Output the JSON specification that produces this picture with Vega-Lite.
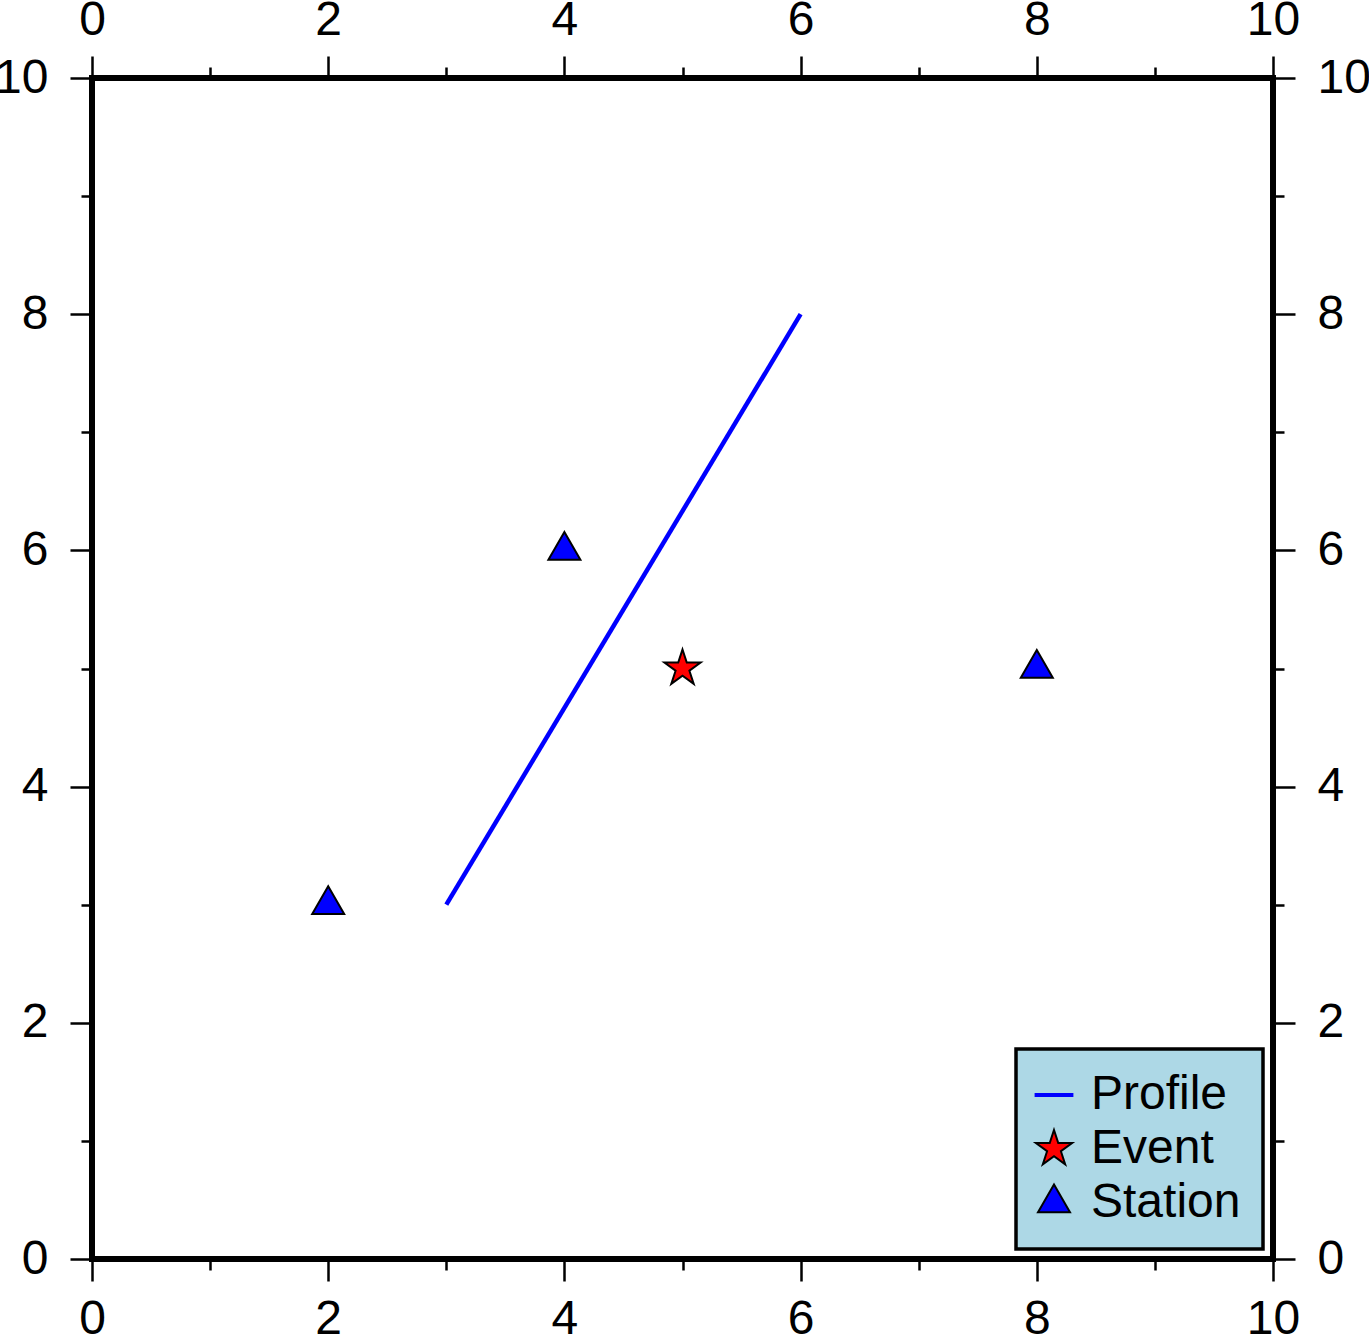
{
  "$schema": "https://vega.github.io/schema/vega-lite/v6.json",
  "width": 1181,
  "height": 1181,
  "autosize": "none",
  "padding": {"left": 92, "top": 78, "right": 96, "bottom": 79},
  "background": "white",
  "view": {"stroke": "black", "strokeWidth": 6, "fill": null},
  "datasets": {
    "profile": [{"x": 3, "y": 3}, {"x": 6, "y": 8}],
    "points": [
      {"x": 5, "y": 5, "type": "Event"},
      {"x": 2, "y": 3, "type": "Station"},
      {"x": 4, "y": 6, "type": "Station"},
      {"x": 8, "y": 5, "type": "Station"}
    ]
  },
  "config": {
    "axis": {
      "domain": false,
      "grid": false,
      "tickColor": "black",
      "tickWidth": 2.5,
      "labelFont": "Liberation Sans",
      "labelFontSize": 48,
      "labelColor": "black",
      "labelFlush": false,
      "labelOverlap": false,
      "labelBound": false,
      "title": null
    },
    "legend": {
      "title": null,
      "orient": "bottom-right",
      "offset": 10,
      "padding": 22,
      "fillColor": "#ADD8E6",
      "strokeColor": "black",
      "strokeWidth": 3.5,
      "labelFont": "Liberation Sans",
      "labelFontSize": 48,
      "labelColor": "black",
      "labelOffset": 13,
      "symbolOffset": -8,
      "rowPadding": 6,
      "symbolSize": 1024,
      "symbolStrokeWidth": 2,
      "symbolOpacity": 1
    }
  },
  "layer": [
    {
      "data": {"name": "profile"},
      "mark": {"type": "line", "color": "blue", "strokeWidth": 4.5, "strokeCap": "butt"},
      "encoding": {
        "x": {"field": "x", "type": "quantitative", "scale": {"domain": [0, 10], "nice": false},
          "axis": {"orient": "bottom", "values": [0,1,2,3,4,5,6,7,8,9,10],
            "labelExpr": "datum.value % 2 == 0 ? datum.label : ''",
            "tickSize": {"condition": {"test": "datum.value % 2 == 0", "value": 22}, "value": 11},
            "labelPadding": 14}},
        "y": {"field": "y", "type": "quantitative", "scale": {"domain": [0, 10], "nice": false},
          "axis": {"orient": "left", "values": [0,1,2,3,4,5,6,7,8,9,10],
            "labelExpr": "datum.value % 2 == 0 ? datum.label : ''",
            "tickSize": {"condition": {"test": "datum.value % 2 == 0", "value": 22}, "value": 11},
            "labelPadding": 22}}
      }
    },
    {
      "data": {"name": "points"},
      "mark": {"type": "point", "filled": true, "size": 1024, "strokeWidth": 2, "opacity": 1},
      "encoding": {
        "x": {"field": "x", "type": "quantitative",
          "axis": {"orient": "top", "values": [0,1,2,3,4,5,6,7,8,9,10],
            "labelExpr": "datum.value % 2 == 0 ? datum.label : ''",
            "tickSize": {"condition": {"test": "datum.value % 2 == 0", "value": 22}, "value": 11},
            "labelPadding": 12}},
        "y": {"field": "y", "type": "quantitative",
          "axis": {"orient": "right", "values": [0,1,2,3,4,5,6,7,8,9,10],
            "labelExpr": "datum.value % 2 == 0 ? datum.label : ''",
            "tickSize": {"condition": {"test": "datum.value % 2 == 0", "value": 22}, "value": 11},
            "labelPadding": 22}},
        "fill": {"field": "type", "type": "nominal",
          "scale": {"domain": ["Profile", "Event", "Station"], "range": ["blue", "red", "blue"]}},
        "stroke": {"field": "type", "type": "nominal",
          "scale": {"domain": ["Profile", "Event", "Station"], "range": ["blue", "black", "black"]}},
        "shape": {"field": "type", "type": "nominal",
          "scale": {"domain": ["Profile", "Event", "Station"],
            "range": ["M-1.15,-0.07L1.15,-0.07L1.15,0.07L-1.15,0.07Z", "M0,-1.19L0.267,-0.368L1.132,-0.368L0.432,0.14L0.7,0.963L0,0.455L-0.7,0.963L-0.432,0.14L-1.132,-0.368L-0.267,-0.368Z", "M-1,0.577L1,0.577L0,-1.155Z"]}}
      }
    }
  ],
  "resolve": {"axis": {"x": "independent", "y": "independent"}}
}
